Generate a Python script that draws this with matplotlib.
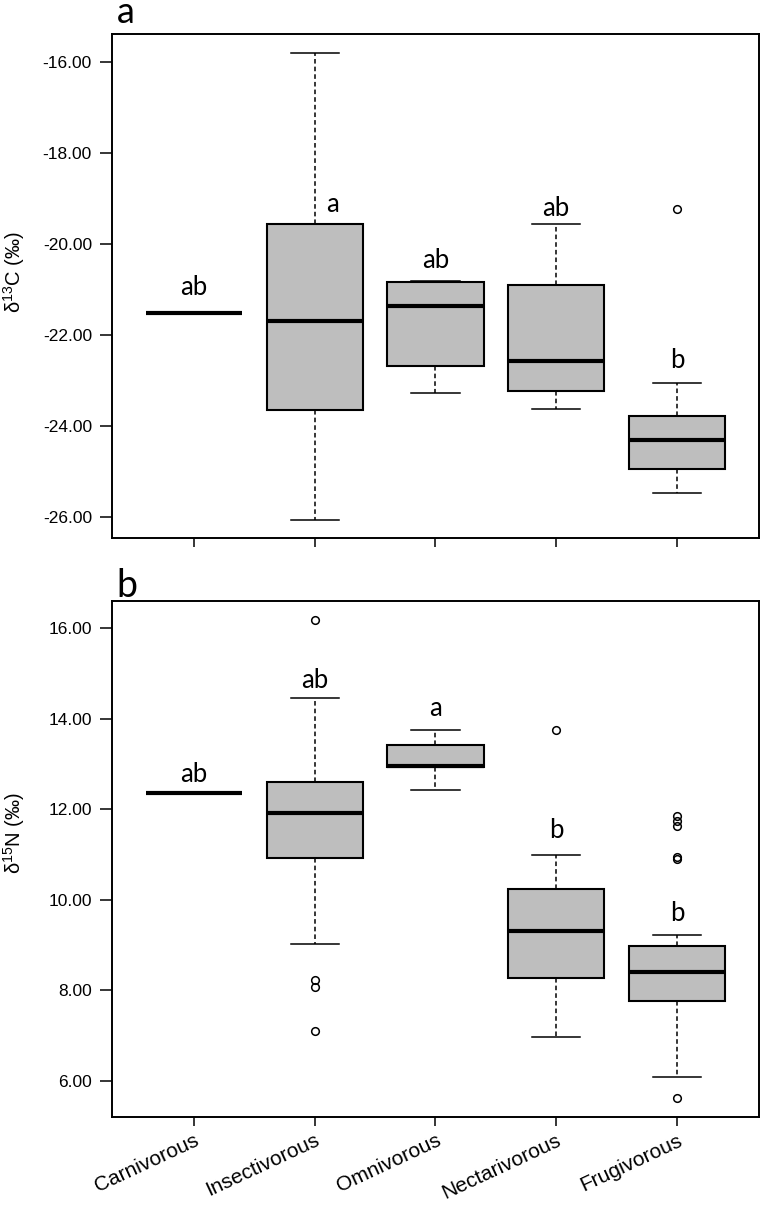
import numpy as np
import matplotlib.pyplot as plt

plt.rcParams['mathtext.fontset'] = 'custom'
plt.rcParams['mathtext.rm'] = 'Liberation Sans'

groups = ['Carnivorous', 'Insectivorous', 'Omnivorous', 'Nectarivorous', 'Frugivorous']

# delta 13C summary (whislo, q1, med, q3, whishi)
c_whislo = [-21.52, -26.07, -23.29, -23.63, -25.49]
c_q1 = [-21.52, -23.65, -22.68, -23.24, -24.96]
c_med = [-21.52, -21.70, -21.36, -22.58, -24.31]
c_q3 = [-21.52, -19.56, -20.84, -20.90, -23.78]
c_whishi = [-21.52, -15.79, -20.82, -19.55, -23.06]
c_fliers = [[], [], [], [], [-19.23]]
c_letters = ['ab', 'a', 'ab', 'ab', 'b']
c_letter_y = [-21.13, -19.29, -20.52, -19.38, -22.73]

# delta 15N summary
n_whislo = [12.35, 9.02, 12.43, 6.97, 6.09]
n_q1 = [12.35, 10.92, 12.94, 8.28, 7.76]
n_med = [12.35, 11.92, 12.96, 9.31, 8.40]
n_q3 = [12.35, 12.61, 13.41, 10.23, 8.98]
n_whishi = [12.35, 14.45, 13.76, 10.98, 9.23]
n_fliers = [[], [16.17, 8.22, 8.08, 7.09], [], [13.76],
            [11.84, 11.73, 11.62, 10.95, 10.91, 5.63]]
n_letters = ['ab', 'ab', 'a', 'b', 'b']
n_letter_y = [12.61, 14.68, 14.05, 11.36, 9.53]

c_ticks = [-16, -18, -20, -22, -24, -26]
n_ticks = [16, 14, 12, 10, 8, 6]


def make_stats(lo, q1, med, q3, hi, fl):
    out = []
    for i in range(len(groups)):
        out.append(dict(label=groups[i], whislo=lo[i], q1=q1[i], med=med[i],
                        q3=q3[i], whishi=hi[i], fliers=fl[i]))
    return out


def draw(ax, stats, ticks, ylim, letters, letter_y, ylabel, letter_dx):
    ax.bxp(stats, positions=range(1, 6), widths=0.8, capwidths=0.4,
           patch_artist=True,
           boxprops=dict(facecolor='#bebebe', edgecolor='black', linewidth=1.5),
           medianprops=dict(color='black', linewidth=3.0, solid_capstyle='butt'),
           whiskerprops=dict(color='black', linestyle=(0, (3, 2)), linewidth=1.1),
           capprops=dict(color='black', linewidth=1.1),
           flierprops=dict(marker='o', markerfacecolor='none', markeredgecolor='black',
                           markersize=5.5, markeredgewidth=1.1))
    ax.set_xlim(0.32, 5.68)
    ax.set_ylim(*ylim)
    ax.set_yticks(ticks)
    ax.set_yticklabels(['%.2f' % t for t in ticks], fontsize=12.5,
                       family='Liberation Sans')
    ax.tick_params(axis='y', length=8.5, width=1.1, pad=6)
    ax.tick_params(axis='x', length=6.5, width=1.1)
    for s in ax.spines.values():
        s.set_linewidth(1.4)
    for i, (t, y) in enumerate(zip(letters, letter_y)):
        ax.text(i + 1 + letter_dx[i], y, t, ha='center', va='baseline',
                fontsize=18.5, family='Lato')
    ax.set_ylabel(ylabel, fontsize=14.5, family='Liberation Sans')


fig = plt.figure(figsize=(7.62, 12.06), dpi=100)
ax1 = fig.add_axes([0.147, 0.5539, 0.849, 0.4179])
ax2 = fig.add_axes([0.147, 0.0740, 0.849, 0.4277])

draw(ax1, make_stats(c_whislo, c_q1, c_med, c_q3, c_whishi, c_fliers),
     c_ticks, (-26.47, -15.38), c_letters, c_letter_y,
     r'δ$^{\mathregular{13}}$C (‰)', [0, 0.15, 0, 0, 0])
draw(ax2, make_stats(n_whislo, n_q1, n_med, n_q3, n_whishi, n_fliers),
     n_ticks, (5.205, 16.60), n_letters, n_letter_y,
     r'δ$^{\mathregular{15}}$N (‰)', [0, 0, 0, 0, 0])

ax1.set_xticklabels([])
ax2.set_xticklabels(groups, rotation=25, ha='right', rotation_mode='anchor',
                    fontsize=15, family='Liberation Sans')
ax1.yaxis.set_label_coords(-0.131, 0.528)
ax2.yaxis.set_label_coords(-0.131, 0.55)

fig.text(0.153, 0.981, 'a', fontsize=26, family='Lato', va='baseline')
fig.text(0.153, 0.505, 'b', fontsize=27, family='Lato', va='baseline')

fig.savefig('out.png', dpi=100)
